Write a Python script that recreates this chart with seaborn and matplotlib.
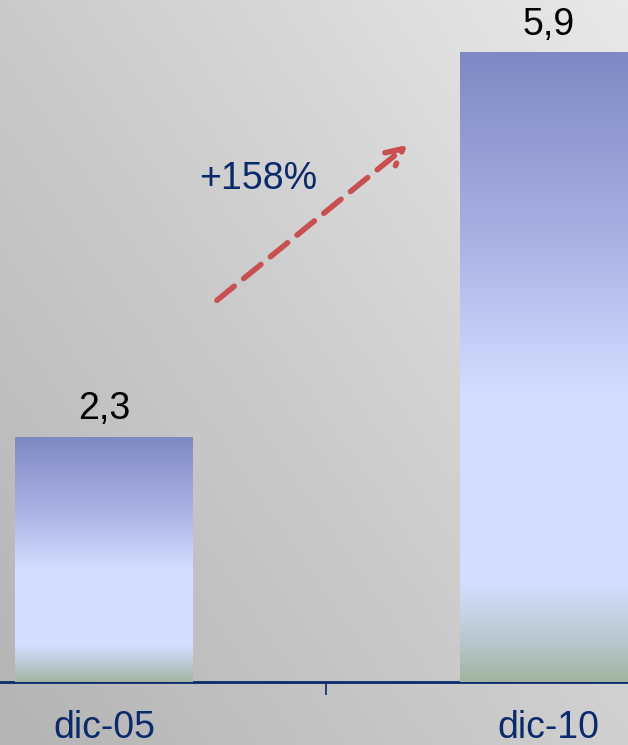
import numpy as np
import pandas as pd
import matplotlib
matplotlib.use("Agg")
import matplotlib.pyplot as plt
import seaborn as sns
from matplotlib.colors import LinearSegmentedColormap

# datos
periodos = ["dic-05", "dic-10"]
valores = [2.3, 5.9]
etiquetas = ["2,3", "5,9"]
crecimiento = "+158%"

df = pd.DataFrame({"periodo": periodos, "valor": valores})

sns.set_theme(style="white")
plt.rcParams["font.family"] = ["Liberation Sans", "DejaVu Sans"]

fig = plt.figure(figsize=(6.28, 7.45), dpi=100)

# fondo degradado gris (oscuro abajo-izquierda, claro arriba-derecha)
bg = fig.add_axes([0, 0, 1, 1], zorder=0)
gx, gy = np.meshgrid(np.linspace(0, 1, 200), np.linspace(0, 1, 200))
grad = 0.55 * gx + 0.45 * (1 - gy)
bg_cmap = LinearSegmentedColormap.from_list("bg", ["#b4b4b4", "#cdcdcd", "#e9e9e9"])
bg.imshow(grad, cmap=bg_cmap, aspect="auto", extent=[0, 1, 0, 1], origin="upper")
bg.set_axis_off()

ax = fig.add_axes([0, 0.0846, 1, 0.9154], zorder=1)
ax.patch.set_alpha(0)

sns.barplot(data=df, x="periodo", y="valor", width=0.4, color="#8088c4",
            edgecolor="none", linewidth=0, ax=ax, zorder=2)

# degradado dentro de las barras
bar_cmap = LinearSegmentedColormap.from_list(
    "bar", [(0.0, "#a0b4a0"), (0.06, "#b8c6cc"), (0.15, "#d4ddff"),
            (0.46, "#d4ddff"), (0.7, "#aab2e4"), (1.0, "#8088c4")])
grad_v = np.linspace(0, 1, 256).reshape(-1, 1)
for p in ax.patches:
    x0, w, h = p.get_x(), p.get_width(), p.get_height()
    im = ax.imshow(grad_v, cmap=bar_cmap, aspect="auto", origin="lower",
                   extent=[x0, x0 + w, 0, h], zorder=3)
    im.set_clip_path(p)
ax.set_xlim(-0.234, 1.178)
ax.set_ylim(0, 6.39)

for i, (v, t) in enumerate(zip(valores, etiquetas)):
    ax.text(i, v + 0.09, t, ha="center", va="bottom", fontsize=27, color="black")

# flecha de crecimiento
ax.annotate("", xy=(0.688, 5.05), xytext=(0.249, 3.56),
            arrowprops=dict(arrowstyle="->", color="#c85050", lw=4,
                            linestyle=(0, (4, 2.2)), mutation_scale=30))
ax.text(0.346, 4.71, crecimiento, ha="center", va="center", fontsize=27,
        color="#0b2a6b")

navy = "#0b2a6b"
sns.despine(ax=ax, left=True, top=True, right=True)
ax.spines["bottom"].set_color(navy)
ax.spines["bottom"].set_linewidth(2)
ax.set_xticks([0, 1])
ax.set_xticklabels(periodos, fontsize=27, color=navy)
ax.set_xticks([0.5], minor=True)
ax.tick_params(axis="x", which="major", length=0, pad=20)
ax.tick_params(axis="x", which="minor", length=9, width=1.2, color=navy,
               direction="out", bottom=True)
ax.set_yticks([])
ax.set_xlabel("")
ax.set_ylabel("")

fig.savefig("out.png", dpi=100)
